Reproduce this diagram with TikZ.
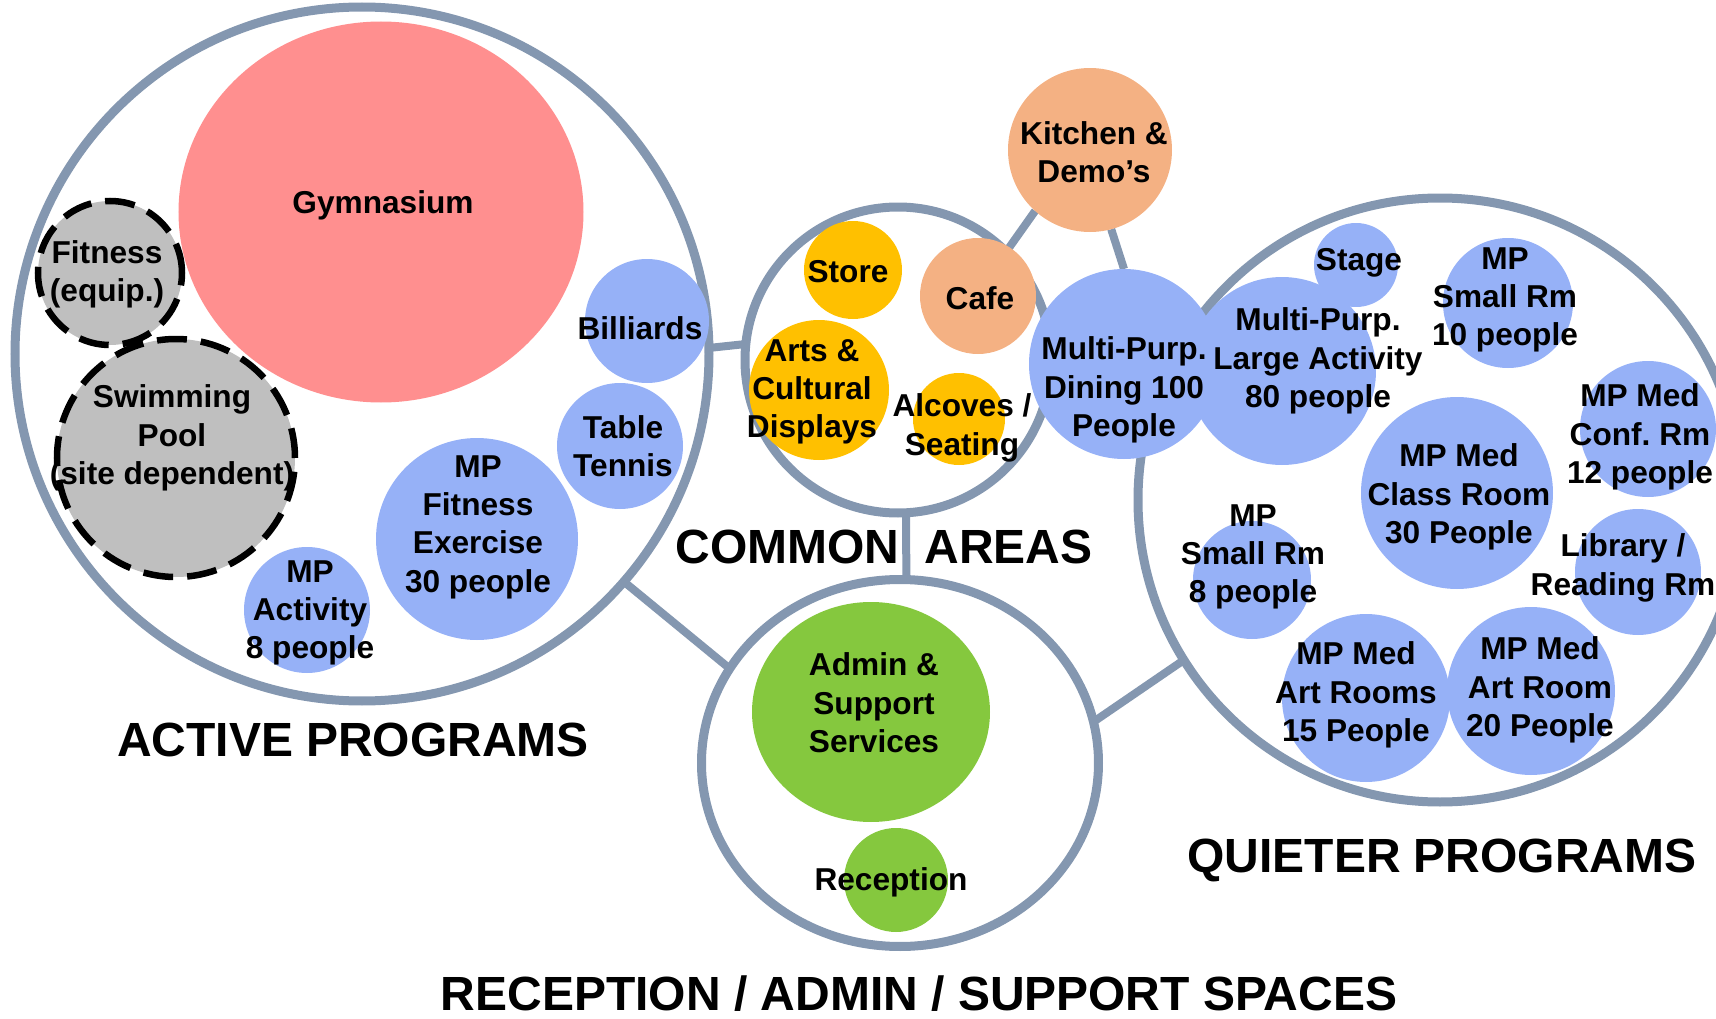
\documentclass[tikz,border=0pt]{standalone}
\usepackage{fontspec}
\setmainfont{Liberation Sans}
\usetikzlibrary{shapes.geometric,backgrounds}

\definecolor{ringc}{RGB}{132,151,176}
\definecolor{bluec}{RGB}{150,177,247}
\definecolor{gymc}{RGB}{255,143,143}
\definecolor{grayc}{RGB}{191,191,191}
\definecolor{yellowc}{RGB}{255,192,0}
\definecolor{peachc}{RGB}{244,177,131}
\definecolor{greenc}{RGB}{133,200,62}

\tikzset{
  ring/.style={circle, draw=ringc, line width=0.09cm, inner sep=0pt, outer sep=0pt},
  room/.style={circle, inner sep=0pt, outer sep=0pt},
  optional/.style={room, fill=grayc, draw=black, line width=0.065cm, dash pattern=on 0.30cm off 0.14cm},
  link/.style={draw=ringc, line width=0.08cm},
  tag/.style={align=center, inner sep=0pt, font=\fontsize{9}{10.9}\selectfont\bfseries},
  head/.style={inner sep=0pt, font=\fontsize{13.65}{16}\selectfont\bfseries}
}

\begin{document}
\begin{tikzpicture}
    \useasboundingbox (0,0) rectangle (17.16,-10.19);
    \clip (0,0) rectangle (17.16,-10.19);

    % Group rings
    \node[ring, minimum size=6.94cm] (active) at (3.62,-3.54) {};
    \node[ring, minimum size=3.06cm] (common) at (8.98,-3.60) {};
    \node[ring, ellipse, minimum width=3.97cm, minimum height=3.67cm] (admin) at (9.00,-7.63) {};
    \node[ring, minimum size=6.04cm] (quiet) at (14.40,-5.00) {};

    % Active programs
    \node[room, ellipse, fill=gymc, minimum width=4.05cm, minimum height=3.81cm] (gym) at (3.81,-2.12) {};
    \node[optional, minimum size=1.44cm] (fitequip) at (1.10,-2.73) {};
    \node[optional, minimum size=2.38cm] (pool) at (1.76,-4.58) {};
    \node[room, fill=bluec, minimum size=1.24cm] (billiards) at (6.47,-3.21) {};
    \node[room, fill=bluec, minimum size=1.26cm] (tennis) at (6.20,-4.46) {};
    \node[room, fill=bluec, minimum size=2.02cm] (mpfit) at (4.77,-5.39) {};
    \node[room, fill=bluec, minimum size=1.26cm] (mpact) at (3.07,-6.10) {};

    % Common areas
    \node[room, fill=yellowc, minimum size=0.98cm] (store) at (8.53,-2.70) {};
    \node[room, fill=peachc, minimum size=1.16cm] (cafe) at (9.78,-2.96) {};
    \node[room, fill=yellowc, minimum size=1.40cm] (arts) at (8.19,-3.90) {};
    \node[room, fill=yellowc, minimum size=0.92cm] (alcoves) at (9.59,-4.19) {};
    \node[room, fill=peachc, minimum size=1.64cm] (kitchen) at (10.90,-1.50) {};
    \node[room, fill=bluec, minimum size=1.90cm] (dining) at (11.24,-3.64) {};

    % Reception / admin
    \node[room, ellipse, fill=greenc, minimum width=2.38cm, minimum height=2.20cm] (support) at (8.71,-7.12) {};
    \node[room, fill=greenc, minimum size=1.04cm] (reception) at (8.96,-8.80) {};

    % Quieter programs
    \node[room, fill=bluec, minimum size=0.84cm] (stage) at (13.56,-2.65) {};
    \node[room, fill=bluec, minimum size=1.88cm] (mplarge) at (12.82,-3.71) {};
    \node[room, fill=bluec, minimum size=1.30cm] (small10) at (15.08,-3.03) {};
    \node[room, fill=bluec, minimum size=1.36cm] (conf) at (16.48,-4.29) {};
    \node[room, fill=bluec, minimum size=1.92cm] (classrm) at (14.57,-4.93) {};
    \node[room, fill=bluec, minimum size=1.26cm] (library) at (16.38,-5.72) {};
    \node[room, fill=bluec, minimum size=1.18cm] (small8) at (12.52,-5.80) {};
    \node[room, fill=bluec, minimum size=1.68cm] (art15) at (13.66,-6.98) {};
    \node[room, fill=bluec, minimum size=1.68cm] (art20) at (15.31,-6.91) {};

    % Links between groups
    \begin{scope}[on background layer]
        \draw[link] (active.1.5) -- (common.174);
        \draw[link] (common.273) -- (admin.88);
        \draw[link] (active.319) -- (admin.151);
        \draw[link] (admin.12) -- (quiet.212);
        \draw[link] (common.45) -- (kitchen.228);
        \draw[link] (kitchen.285) -- (dining.90);
    \end{scope}

    % Room labels
    \node[tag] (gym-t) at (3.83,-2.05) {Gymnasium};
    \node[tag] (fitequip-t) at (1.07,-2.74) {Fitness\\(equip.)};
    \node[tag] (pool-t) at (1.72,-4.38) {Swimming\\Pool\\(site dependent)};
    \node[tag] (billiards-t) at (6.40,-3.28) {Billiards};
    \node[tag] (tennis-t) at (6.23,-4.46) {Table\\Tennis};
    \node[tag] (mpfit-t) at (4.78,-5.27) {MP\\Fitness\\Exercise\\30 people};
    \node[tag] (mpact-t) at (3.10,-6.13) {MP\\Activity\\8 people};
    \node[tag] (store-t) at (8.48,-2.72) {Store};
    \node[tag] (cafe-t) at (9.80,-2.98) {Cafe};
    \node[tag] (arts-t) at (8.12,-3.92) {Arts \&\\Cultural\\Displays};
    \node[tag] (alcoves-t) at (9.62,-4.28) {Alcoves /\\Seating};
    \node[tag] (kitchen-t) at (10.94,-1.52) {Kitchen \&\\Demo’s};
    \node[tag] (dining-t) at (11.24,-3.90) {Multi-Purp.\\Dining 100\\People};
    \node[tag] (support-t) at (8.74,-7.03) {Admin \&\\Support\\Services};
    \node[tag] (reception-t) at (8.91,-8.82) {Reception};
    \node[tag] (stage-t) at (13.59,-2.63) {Stage};
    \node[tag] (mplarge-t) at (13.18,-3.61) {Multi-Purp.\\Large Activity\\80 people};
    \node[tag] (small10-t) at (15.05,-3.00) {MP\\Small Rm\\10 people};
    \node[tag] (conf-t) at (16.40,-4.37) {MP Med\\Conf.\ Rm\\12 people};
    \node[tag] (classrm-t) at (14.59,-4.97) {MP Med\\Class Room\\30 People};
    \node[tag] (library-t) at (16.23,-5.68) {Library /\\Reading Rm};
    \node[tag] (small8-t) at (12.53,-5.57) {MP\\Small Rm\\8 people};
    \node[tag] (art15-t) at (13.56,-6.95) {MP Med\\Art Rooms\\15 People};
    \node[tag] (art20-t) at (15.40,-6.90) {MP Med\\Art Room\\20 People};

    % Group titles
    \node[head] (active-t) at (3.53,-7.40) {ACTIVE PROGRAMS};
    \node[head] (common-t) at (8.84,-5.47) {COMMON\hspace{0.25cm}AREAS};
    \node[head] (quiet-t) at (14.42,-8.60) {QUIETER PROGRAMS};
    \node[head] (admin-t) at (9.19,-9.94) {RECEPTION / ADMIN / SUPPORT SPACES};
\end{tikzpicture}
\end{document}
